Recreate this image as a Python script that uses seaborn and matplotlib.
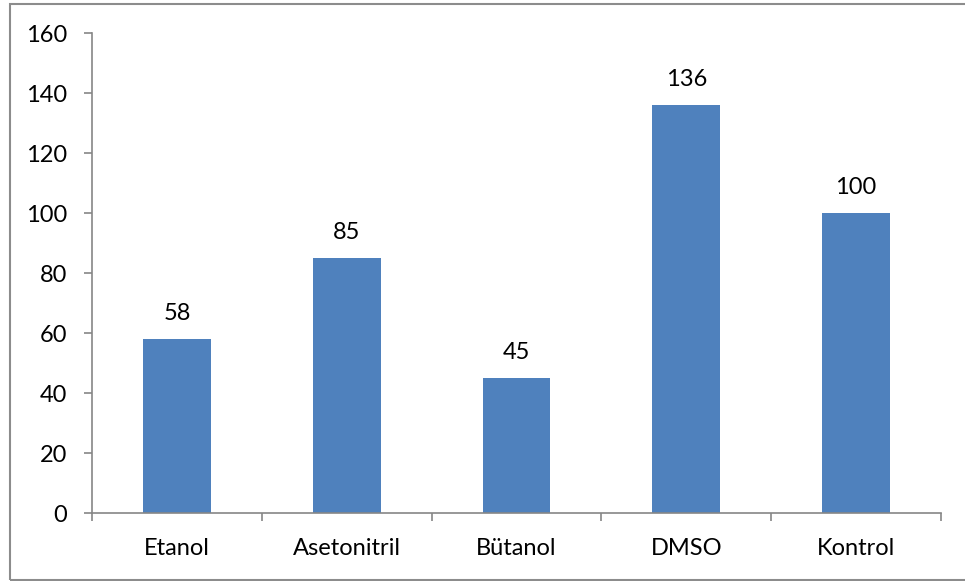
import matplotlib
matplotlib.use("Agg")
import matplotlib.pyplot as plt
from matplotlib.patches import Rectangle
from matplotlib.ticker import FixedLocator
import seaborn as sns
import pandas as pd

categories = ["Etanol", "Asetonitril", "Bütanol", "DMSO", "Kontrol"]
values = [58, 85, 45, 136, 100]
y_ticks = [0, 20, 40, 60, 80, 100, 120, 140, 160]

sns.set_theme(style="white")
plt.rcParams["font.family"] = ["Lato", "DejaVu Sans"]

df = pd.DataFrame({"category": categories, "value": values})

fig = plt.figure(figsize=(9.65, 5.81), dpi=100)
ax = fig.add_axes([92 / 965, 1 - 513 / 581, (941 - 92) / 965, (513 - 33) / 581])

sns.barplot(data=df, x="category", y="value", color="#4F81BD", saturation=1,
            width=0.4, ax=ax, edgecolor="none")

axis_color = "#868686"
fs = 17
ax.set_xlim(-0.5, len(categories) - 0.5)
ax.set_ylim(0, 160)
ax.set_yticks(y_ticks)
ax.set_xlabel("")
ax.set_ylabel("")

for side in ("top", "right"):
    ax.spines[side].set_visible(False)
for side in ("left", "bottom"):
    ax.spines[side].set_color(axis_color)
    ax.spines[side].set_linewidth(1.2)

ax.tick_params(axis="y", which="major", direction="out", length=6, width=1.2,
               color=axis_color, labelsize=fs, labelcolor="black", pad=12, left=True)
ax.tick_params(axis="x", which="major", length=0, labelsize=fs,
               labelcolor="black", pad=18)
ax.xaxis.set_minor_locator(FixedLocator([i - 0.5 for i in range(len(categories) + 1)]))
ax.tick_params(axis="x", which="minor", direction="out", length=6, width=1.2,
               color=axis_color, bottom=True)

for i, v in enumerate(values):
    ax.annotate(str(v), (i, v), xytext=(0, 11), textcoords="offset points",
                ha="center", va="bottom", fontsize=fs, color="black")

# outer chart frame
fig.patches.append(Rectangle((10 / 965, 1 - 580 / 581), 1.0, (580 - 4) / 581,
                             transform=fig.transFigure, fill=False,
                             edgecolor="#8c8c8c", linewidth=1.5))

fig.savefig("out.png", dpi=100, facecolor="white")
